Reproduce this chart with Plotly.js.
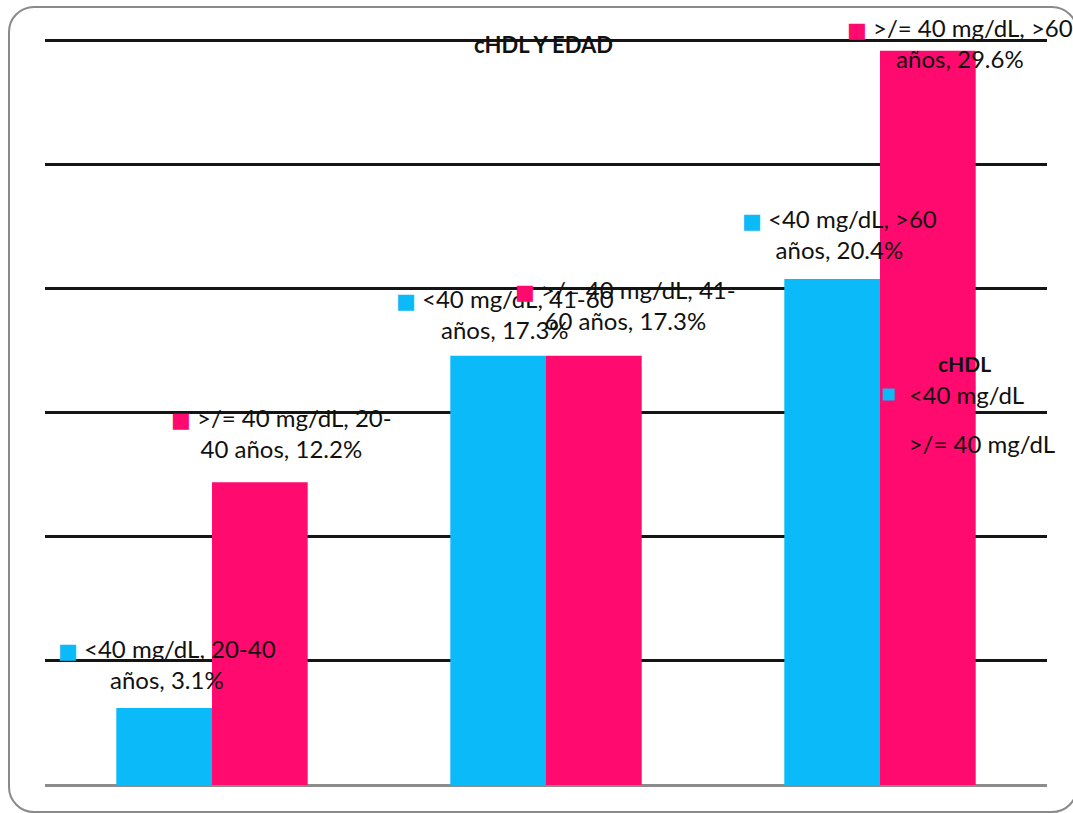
<!DOCTYPE html>
<html>
<head>
<meta charset="utf-8">
<script src="https://cdn.plot.ly/plotly-3.0.1.min.js"></script>
<style>
  html, body { margin: 0; padding: 0; background: #fff; }
  #wrap { position: relative; width: 1073px; height: 813px; }
  #chart { width: 1073px; height: 813px; }
  #frame {
    position: absolute; left: 8px; top: 6px; width: 1066px; height: 803px;
    border: 2px solid #8a8a8a; border-radius: 26px; pointer-events: none;
  }
</style>
</head>
<body>
<div id="wrap">
  <div id="chart"></div>
  <div id="frame"></div>
</div>
<script>
// Age groups (years)
const ageGroups = ['20-40', '41-60', '>60'];

// HDL cholesterol categories
const hdlLow = '<40 mg/dL';
const hdlNormal = '>/= 40 mg/dL';

// Percentages per age group
const lowValues = [3.1, 17.3, 20.4];
const normalValues = [12.2, 17.3, 29.6];

const blue = '#0bbaf8';
const pink = '#ff0a6e';

// Label nudges in pixels: [dx from bar centre, rise of label centre above bar top]
const lowLabelNudge = [[3, 44], [7, 42], [7, 45]];
const normalLabelNudge = [[21, 49], [31, 51], [32, 8]];

const FONT = 'Lato, "Liberation Sans", sans-serif';
const BAR_PX = 96;

function esc(s) {
  return s.replace(/&/g, '&amp;').replace(/</g, '&lt;').replace(/>/g, '&gt;');
}

// Wrap a label at spaces, or after a hyphen when that fits
function wrap(s, max) {
  const tokens = s.split(' ');
  const lines = [];
  let cur = '';
  for (const tok of tokens) {
    const cand = cur ? cur + ' ' + tok : tok;
    if (cand.length <= max) { cur = cand; continue; }
    const h = tok.indexOf('-');
    if (h > 0) {
      const head = tok.slice(0, h + 1);
      const c2 = cur ? cur + ' ' + head : head;
      if (c2.length <= max) { lines.push(c2); cur = tok.slice(h + 1); continue; }
    }
    lines.push(cur);
    cur = tok;
  }
  lines.push(cur);
  return lines;
}

function labelText(name, group, v, color) {
  const lines = wrap(name + ', ' + group + ' años, ' + v.toFixed(1) + '%', 17).map(esc);
  const key = '<span style="color:' + color + ';font-family:DejaVu Sans;font-size:21px">■</span>\u00a0';
  return key + lines.join('<br>');
}

const traces = [
  {
    type: 'bar', name: esc(hdlLow), x: ageGroups, y: lowValues,
    marker: { color: blue }, legendgroup: 'low', hoverinfo: 'x+y+name'
  },
  {
    type: 'bar', name: esc(hdlNormal), x: ageGroups, y: normalValues,
    marker: { color: pink }, legendgroup: 'normal', hoverinfo: 'x+y+name'
  }
];

const annotations = [];
ageGroups.forEach((g, i) => {
  annotations.push({
    x: g, y: lowValues[i], xref: 'x', yref: 'y',
    xshift: -BAR_PX / 2 + lowLabelNudge[i][0], yshift: lowLabelNudge[i][1],
    xanchor: 'center', yanchor: 'middle', align: 'center', showarrow: false,
    text: labelText(hdlLow, g, lowValues[i], blue),
    font: { family: FONT, size: 24, color: '#111' }
  });
  annotations.push({
    x: g, y: normalValues[i], xref: 'x', yref: 'y',
    xshift: BAR_PX / 2 + normalLabelNudge[i][0], yshift: normalLabelNudge[i][1],
    xanchor: 'center', yanchor: 'middle', align: 'center', showarrow: false,
    text: labelText(hdlNormal, g, normalValues[i], pink),
    font: { family: FONT, size: 24, color: '#111' }
  });
});

const layout = {
  width: 1073, height: 813,
  margin: { l: 45, r: 23, t: 37, b: 28, pad: 0 },
  paper_bgcolor: 'rgba(0,0,0,0)',
  plot_bgcolor: 'rgba(0,0,0,0)',
  font: { family: FONT, size: 24, color: '#111' },
  title: {
    text: '<b>cHDL Y EDAD</b>',
    font: { family: FONT, size: 22, color: '#111' },
    x: 0.4975, xref: 'paper', xanchor: 'center',
    y: 1 - 45 / 813, yref: 'container', yanchor: 'middle'
  },
  barmode: 'group',
  bargap: 0.427,
  bargroupgap: 0,
  xaxis: {
    type: 'category', showticklabels: false, ticks: '', showgrid: false,
    zeroline: false, showline: false, range: [-0.5, 2.5], fixedrange: true
  },
  yaxis: {
    range: [0, 30.15], tick0: 0, dtick: 5, showticklabels: false, ticks: '',
    showgrid: true, gridcolor: '#151515', gridwidth: 3,
    zeroline: true, zerolinecolor: '#8c8c8c', zerolinewidth: 3,
    showline: false, fixedrange: true
  },
  showlegend: true,
  legend: {
    x: 0.822, xref: 'paper', xanchor: 'left',
    y: 1 - (345 - 37) / 748, yanchor: 'top',
    bgcolor: 'rgba(0,0,0,0)', borderwidth: 0,
    font: { family: FONT, size: 24, color: '#111' },
    title: { text: '<b>cHDL</b>', side: 'top center', font: { family: FONT, size: 21, color: '#111' } },
    traceorder: 'grouped', tracegroupgap: 15,
    itemclick: false, itemdoubleclick: false
  },
  annotations: annotations
};

Plotly.newPlot('chart', traces, layout, { displayModeBar: false, staticPlot: true });
</script>
</body>
</html>
